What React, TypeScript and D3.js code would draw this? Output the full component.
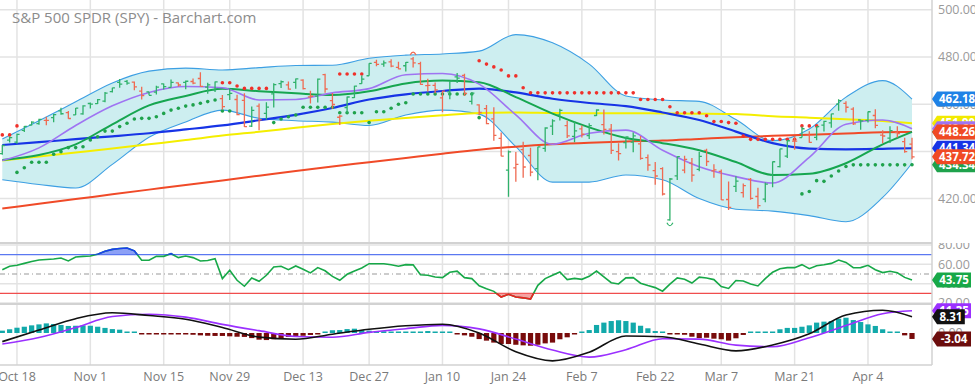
import { useEffect, useRef } from 'react';
import * as d3 from 'd3';

const width = 975;
const height = 388;
const plotRight = 932;

// bar index of each date label (trading days from Oct 14 2021)
const tickIdx = [2, 12, 22, 31, 41, 50, 60, 69, 79, 89, 98, 108, 118];
const tickLabels = ['Oct 18', 'Nov 1', 'Nov 15', 'Nov 29', 'Dec 13', 'Dec 27', 'Jan 10', 'Jan 24', 'Feb 7', 'Feb 22', 'Mar 7', 'Mar 21', 'Apr 4'];

const opens = [
  439.08, 444.75, 443.97, 448.92, 451.13, 451.77, 453.13, 454.28, 457.2, 456.45,
  455.46, 455.87, 460.3, 460.22, 461.3, 465.36, 469.28, 469.7, 469.32, 465.58,
  465.21, 465.12, 468.64, 467.15, 469, 469.24, 469.61, 470.89, 467.22, 466.06,
  462.34, 464.07, 462, 461.64, 450.73, 459.17, 456.13, 464.41, 468.7, 468.15,
  469.23, 470.19, 463.09, 463.42, 472.57, 461.55, 454.48, 458.61, 462.79, 468.75,
  472.06, 477.72, 476.98, 477.93, 475.64, 476.3, 479.22, 477.16, 467.89, 467.95,
  462.7, 465.23, 471.59, 472.19, 461.19, 459.74, 458.13, 453.75, 445.56, 432.03,
  433.06, 440.72, 438.26, 432.68, 441.24, 450.68, 455.5, 450.95, 446.35, 449.51,
  446.73, 455.22, 451.34, 449.41, 439.92, 443.73, 443.93, 443.22, 437.33, 431.89,
  432.66, 411.02, 429.61, 432.03, 435.04, 432.37, 440.47, 431.75, 431.55, 419.62,
  425.14, 422.52, 428.12, 420.89, 419.77, 429.89, 433.59, 438, 444.34, 445.86,
  446.91, 445.94, 451.16, 452.06, 460.02, 460.34, 457.89, 453.31, 453.13, 455.22,
  446.89, 445.59, 447.97, 444.11, 443.08,
];
const highs = [
  442.66, 446.26, 447.55, 450.71, 452.73, 453.83, 454.67, 455.9, 458.49, 457.16,
  458.4, 459.56, 460.7, 462.23, 465.15, 467, 470.65, 470.23, 469.57, 467.38,
  465.29, 467.86, 468.81, 470.49, 469.19, 470.01, 470.94, 473.54, 469.1, 469.57,
  463.9, 466.56, 464.03, 464.67, 459.07, 460.3, 460.79, 468.88, 470, 469.63,
  470.9, 470.56, 465.74, 470.86, 472.87, 464.74, 455.4, 463.21, 467.81, 472.19,
  477.31, 478.81, 478.56, 479, 477.95, 477.85, 479.98, 477.98, 470.82, 469.2,
  465.74, 469.85, 473.2, 472.88, 465.09, 459.96, 459.61, 458.74, 448.06, 440.38,
  439.72, 444.04, 441.59, 442, 450.28, 453.63, 458.12, 452.97, 452.78, 450.99,
  451.92, 457.88, 457.71, 451.61, 443.5, 446.28, 448.06, 446.57, 438.66, 435.5,
  433.26, 428.76, 437.84, 438.2, 437.17, 439.72, 441.11, 434.6, 432.3, 427.21,
  429.51, 426.43, 428.77, 424.55, 426.84, 435.68, 441.07, 444.86, 446.46, 450.58,
  448.49, 450.5, 452.98, 455.91, 462.07, 461.2, 458.76, 453.46, 456.91, 457.83,
  448.93, 450.69, 450.63, 445.75, 445.75,
];
const lows = [
  438.58, 443.74, 443.27, 448.27, 451.01, 451.31, 451.05, 452.39, 455.56, 453.86,
  455.45, 455.56, 458.2, 460.08, 460.83, 464.99, 466.92, 468.2, 465.88, 462.04,
  463.75, 464.11, 466.23, 467.07, 467.48, 466.34, 468.5, 467.35, 464.45, 465.19,
  457.77, 461.73, 455.3, 450.29, 450.31, 448.92, 453.56, 458.65, 466.83, 466.14,
  466.51, 466.27, 460.25, 460.74, 464.8, 458.06, 451.14, 456.31, 462.58, 468.64,
  472.01, 476.06, 475.92, 475.67, 474.86, 473.85, 475.58, 468.28, 465.43, 464.65,
  456.6, 462.05, 468.94, 463.44, 459.9, 455.31, 451.46, 444.5, 437.95, 420.76,
  427.15, 428.86, 429.45, 427.82, 439.81, 446.94, 453.05, 445.71, 443.83, 445.85,
  445.22, 455.01, 447.2, 438.94, 436.13, 441.23, 439.69, 436.42, 431.82, 425.86,
  421.35, 410.64, 427.86, 430.7, 427.11, 431.57, 433.8, 428.86, 419.36, 415.12,
  422.82, 420.44, 419.53, 415.79, 418.42, 424.8, 433.19, 437.22, 440.68, 445.86,
  443.71, 444.76, 448.43, 450.06, 457.18, 456.47, 451.16, 449.14, 452.26, 449.82,
  443.47, 443.53, 445.94, 439.39, 436.65,
];
const closes = [
  442.5, 445.87, 447.19, 450.64, 452.41, 453.59, 453.12, 455.55, 455.96, 453.94,
  458.32, 459.25, 460.04, 461.9, 464.72, 466.91, 468.53, 468.93, 467.38, 463.62,
  463.77, 467.27, 467.43, 469.28, 468.14, 469.73, 468.89, 467.57, 468.19, 469.44,
  458.97, 464.6, 455.56, 450.5, 457.4, 453.42, 458.79, 468.28, 469.52, 466.35,
  470.74, 466.57, 463.36, 470.6, 466.45, 459.87, 454.98, 463.06, 467.69, 470.6,
  477.26, 476.87, 477.48, 476.16, 474.96, 477.71, 477.55, 468.38, 467.94, 466.09,
  465.51, 469.75, 471.02, 464.53, 464.72, 456.49, 451.75, 446.75, 437.98, 439.84,
  434.47, 433.38, 431.24, 441.95, 449.91, 452.95, 457.35, 446.6, 448.7, 447.26,
  450.94, 457.54, 449.32, 440.46, 439.02, 446.1, 446.6, 437.06, 434.23, 429.57,
  421.95, 428.3, 437.75, 436.63, 429.98, 437.89, 435.71, 432.17, 419.43, 416.25,
  427.41, 425.48, 420.07, 417, 426.17, 435.62, 441.07, 444.52, 444.39, 449.59,
  443.8, 450.49, 452.69, 455.91, 461.55, 458.7, 451.64, 452.92, 456.8, 451.03,
  446.52, 448.77, 447.57, 439.92, 437.72,
];

// overlay studies at every 5th bar
const lineIdx = [0, 5, 10, 15, 20, 25, 30, 35, 40, 45, 50, 55, 60, 65, 70, 75, 80, 85, 90, 95, 100, 105, 110, 115, 120, 124];
const bbUpper = [445.3, 453, 461, 469, 474, 475.3, 474.5, 475.5, 476.4, 476.5, 479.5, 480.8, 481.3, 482.5, 489.5, 486, 477, 463.5, 461.8, 461.2, 453.5, 444.5, 449.5, 463, 470, 462.18];
const bbLower = [428, 426, 424.5, 434.5, 446, 452.5, 457.5, 454, 453, 452.4, 451, 455.4, 457.5, 455.8, 442, 427, 427, 430, 428, 420, 415.5, 414.7, 412.8, 410.2, 420.5, 435];
const ma200 = [415.8, 417.8, 419.8, 421.8, 423.8, 425.8, 427.7, 429.7, 431.7, 433.6, 435.4, 437.2, 439, 440.7, 442, 443, 443.7, 444.2, 444.6, 445.3, 446, 446.6, 447.1, 447.6, 448.1, 448.26];
const ma100 = [436.1, 437.8, 439.5, 441.2, 443, 444.8, 446.7, 448.3, 450, 451.6, 453, 454.2, 455.3, 456.3, 456.5, 456.3, 456.2, 456.2, 456.1, 456, 455.8, 454.9, 454.3, 453.6, 452.9, 451.9];
const ma50 = [442.7, 443.9, 445.2, 446.4, 447.7, 449.3, 451, 453.2, 455.5, 458.4, 462, 464.2, 465.6, 466.6, 465, 462.3, 460.5, 459.2, 456.5, 453.3, 448.4, 443.5, 441.2, 440.9, 441.1, 441.34];
const ma20 = [436.4, 438.5, 443, 451.5, 459.5, 463.5, 466.5, 465.5, 464.6, 463.9, 465.5, 468.8, 470, 469.3, 463, 456, 450.2, 445.7, 443.5, 440.5, 435.5, 430, 430.5, 435, 443, 448.3];
const ma9 = [436.1, 441.5, 451, 459.3, 465, 467.5, 467, 461.8, 462, 464.8, 466.6, 472.5, 473, 468.5, 455.5, 443, 447.7, 449, 440.5, 433.5, 429.3, 426.6, 437.5, 451.5, 453.3, 449.6];

// parabolic SAR dots
const sarBelow = [
  null, null, 431.1, 433.1, 435.4, 435.4, 435.4, 438.8, 439.9, 441.6,
  441.6, 442, 444.8, 446.2, 448.6, 448.6, 450.5, 451.9, 453.7, 454,
  454, 454.7, 456.1, 457.5, 458.3, 459.2, 459.7, 460.4, 461.1, 461.8,
  457.1, 457.1, null, null, null, null, null, 452.2, 453.7, 454.7,
  455.4, 458.7, 458.7, 458.7, 458.7, 458.7, 456.4, 456.4, 456.4, 456.4,
  452.2, 456.8, 456.8, 458.3, 460, 460.6, 464.3, 464.3, 464.3, 464.3,
  464.3, 464.3, 464.3, 464.3, 464.3, 454.3, null, null, null, null,
  null, null, null, null, null, null, null, null, null, null,
  null, null, null, null, null, null, null, null, null, null,
  null, null, null, null, null, null, null, null, null, null,
  null, null, null, null, null, null, null, null, null, 422,
  423, 427.6, 427.3, 429.6, 431.7, 433.6, 434.3, 434.3, 434.3, 434.3,
  434.3, 434.3, 434.3, 434.3, 434.34,
];
const sarAbove = [
  447, 447, 450.8, null, null, null, null, null, null, null,
  null, null, null, null, null, null, null, null, null, null,
  null, null, null, null, null, null, null, null, null, null,
  469.1, 469.1, 467.7, 466.7, 466.7, 466.7, 466.7, null, null, null,
  null, null, null, null, null, null, 472.8, 472.8, 472.8, 472.8,
  null, null, null, null, null, null, null, null, null, null,
  null, null, null, null, null, 478.4, 477, 475.8, 474.5, 472,
  472, 467, 464.8, 464.8, 464.8, 464.8, 464.8, 464.8, 464.8, 464.8,
  464.8, 464.8, 464.8, 464.8, 464.8, 464.8, 464.8, 462, 462, 462,
  462, 458.9, 456.4, 456.4, 456.4, 456.4, 455.1, 452.7, 452.7, 452.2,
  451.9, 446.5, 445.1, 445.1, 445.1, 445.1, 445.1, 445.1, 445.1, 450.8,
  450.8, 450.8, null, null, null, null, null, null, null, null,
  null, null, null, null, null,
];

const rsi = [
  54.5, 58, 59, 61, 63, 64.5, 65, 65.5, 66.5, 63.5,
  67.6, 68.3, 68.7, 70.5, 73.5, 75.5, 76.5, 77, 74, 64.2,
  64.2, 68.3, 68.3, 71, 67, 68.7, 67, 63.5, 64, 65.9,
  45.2, 53.8, 43.5, 37.3, 45.9, 42.4, 48.7, 57.3, 58, 54.5,
  58.3, 54.9, 51.1, 56.6, 53.3, 47.5, 43.5, 49.7, 53.1, 56.2,
  60.7, 60.7, 60.7, 59.5, 58, 59.7, 59.5, 49.3, 48.7, 46.9,
  46.2, 51.8, 53, 46.2, 45.2, 37.8, 34.8, 32, 26.1, 28.9,
  26.1, 25.3, 24, 38.3, 45.2, 48.7, 52.1, 44.2, 45.5, 44.5,
  47.6, 53.1, 47, 41, 39.7, 46, 46.2, 40.5, 38, 35.9,
  32.2, 39.5, 45.9, 44.5, 40.6, 46.7, 45.9, 44.2, 37, 35,
  43.2, 42.8, 39.7, 37.6, 45.2, 51.8, 55.5, 56.6, 56.6, 59.7,
  55.5, 58.6, 59.5, 61, 64.5, 62, 56.5, 56.6, 59, 54.5,
  51.5, 52.8, 51.2, 46.5, 43.75,
];

const macdLine = [-4.4, 1.5, 7.3, 10.3, 8.9, 7, 2.8, -2.1, -3.2, -0.6, 1.9, 3.7, 4.5, 0, -9.6, -14.2, -9.8, -1.5, -1.9, -5.6, -9.1, -6.1, -0.4, 9.2, 11.6, 8.31];
const macdSignal = [-5.6, -2.3, 2.8, 8.4, 9.6, 8.1, 4.4, 1.2, -1.8, -2.2, 0.3, 2.2, 3.9, 2.1, -3.1, -8.7, -12.3, -8.5, -2.9, -3.1, -6.2, -7, -2.4, 3.8, 9.8, 11.35];
const macdHist = [
  1.2, 1.9, 2.7, 3.2, 3.9, 4.4, 4.9, 4.6, 4.1, 3.6,
  3.7, 3.9, 3.7, 3.2, 2.6, 2, 1.7, 0.7, 0.2, -0.1,
  -0.3, -0.5, -0.5, -0.7, -0.7, -0.7, -0.9, -1.2, -1.4, -1.5,
  -1.5, -1.7, -1.9, -2, -2.6, -3.4, -3.6, -3.2, -2.6, -2,
  -1.5, -1.4, -1, -0.5, 0.2, 1.4, 1.5, 2, 2.2, 1.5,
  1.2, 1, 0.9, 0.7, 0.7, 0.7, 0.7, 0.7, 1, 0.5,
  0.2, 0.05, -0.5, -1.2, -1.9, -3.1, -3.9, -4.9, -5.6, -5.6,
  -6, -6.3, -6.5, -6, -5.3, -4.9, -3.2, -2.2, -0.5, 0.1,
  1.5, 4.1, 5.3, 6.1, 6.5, 6.1, 5.3, 3.7, 2.4, 1,
  0.2, -0.3, -0.5, -0.9, -1.9, -2.6, -2.4, -2.9, -3.2, -3.9,
  -2.7, -1, 0.1, 0.2, 0.3, 0.5, 1.9, 2.6, 2.6, 3.2,
  3.9, 5.3, 5.8, 6.1, 7.3, 7.8, 6.6, 5.6, 4.4, 3.6,
  1.9, 0.5, 0.05, -1.2, -3.04,
];

const priceTicks = [420, 440, 460, 480, 500];
const rsiTicks = [20, 40, 60, 80];

const green = '#2fb16a';
const red = '#ef6a52';

const x = d3.scaleLinear().domain([0, 124]).range([2.3, 912]);
const yPrice = d3.scaleLinear().domain([420, 480]).range([198.6, 57]);
const yRsi = d3.scaleLinear().domain([30, 70]).range([293.3, 254.7]);
const yMacd = d3.scaleLinear().domain([0, 10]).range([333, 313.4]);

const draw = (node) => {
  const svg = d3.select(node);
  svg.selectAll('*').remove();

  const defs = svg.append('defs');
  const clip = (id, x0, y0, w, h) =>
    defs.append('clipPath').attr('id', id).append('rect').attr('x', x0).attr('y', y0).attr('width', w).attr('height', h);
  clip('cMain', 0, 0, plotRight, 242);
  clip('cRsi', 0, 244, plotRight, 59);
  clip('cMacd', 0, 305, plotRight, 59);
  clip('cRsiHi', 0, 244, plotRight, yRsi(70) - 244);
  clip('cRsiLo', 0, yRsi(30), plotRight, 303 - yRsi(30));
  clip('lRsi', plotRight, 243, 60, 61);
  clip('lMain', plotRight, 0, 60, 242);

  // grid
  const grid = svg.append('g').attr('stroke', '#e3e3e3').attr('stroke-width', 1.5);
  tickIdx.forEach((t) => {
    grid.append('line').attr('x1', x(t)).attr('x2', x(t)).attr('y1', 0).attr('y2', 365);
  });
  priceTicks.forEach((p) => {
    grid.append('line').attr('x1', 0).attr('x2', plotRight).attr('y1', yPrice(p)).attr('y2', yPrice(p));
  });
  rsiTicks.forEach((r) => {
    grid.append('line').attr('x1', 0).attr('x2', plotRight).attr('y1', yRsi(r)).attr('y2', yRsi(r));
  });

  svg.append('text').attr('x', 12).attr('y', 23).attr('fill', '#8c8c8c').attr('font-size', 15)
    .text('S&P 500 SPDR (SPY) - Barchart.com');

  // ---- price panel
  const main = svg.append('g').attr('clip-path', 'url(#cMain)');
  const bb = lineIdx.map((i, k) => ({ i, u: bbUpper[k], l: bbLower[k] }));
  main.append('path').datum(bb)
    .attr('d', d3.area().x((d) => x(d.i)).y0((d) => yPrice(d.l)).y1((d) => yPrice(d.u)).curve(d3.curveMonotoneX))
    .attr('fill', '#cdeef0');
  const smooth = (vals, color, w) => {
    main.append('path').datum(lineIdx.map((i, k) => ({ i, v: vals[k] })))
      .attr('d', d3.line().x((d) => x(d.i)).y((d) => yPrice(d.v)).curve(d3.curveMonotoneX))
      .attr('fill', 'none').attr('stroke', color).attr('stroke-width', w);
  };
  smooth(bbUpper, '#3d9fe3', 1.1);
  smooth(bbLower, '#3d9fe3', 1.1);
  smooth(ma200, '#f04a28', 2);
  smooth(ma100, '#f4ee00', 2);
  smooth(ma50, '#1734e6', 2.2);
  smooth(ma20, '#16a650', 2);
  smooth(ma9, '#9f74f2', 1.6);

  sarBelow.forEach((v, i) => {
    if (v != null) main.append('circle').attr('cx', x(i)).attr('cy', yPrice(v)).attr('r', 1.8).attr('fill', '#1fa24c');
  });
  sarAbove.forEach((v, i) => {
    if (v != null) main.append('circle').attr('cx', x(i)).attr('cy', yPrice(v)).attr('r', 1.8).attr('fill', '#f0302a');
  });

  closes.forEach((c, i) => {
    const up = c >= (i ? closes[i - 1] : opens[i]);
    const cx = x(i);
    main.append('path')
      .attr('d', `M${cx},${yPrice(highs[i])}V${yPrice(lows[i])}M${cx - 2.6},${yPrice(opens[i])}H${cx}M${cx},${yPrice(c)}H${cx + 2.6}`)
      .attr('fill', 'none').attr('stroke', up ? green : red).attr('stroke-width', 1.3);
  });

  const hi = d3.maxIndex(highs);
  const lo = d3.minIndex(lows);
  main.append('path')
    .attr('d', `M${x(hi) - 3},${yPrice(highs[hi]) - 2} Q${x(hi)},${yPrice(highs[hi]) - 8} ${x(hi) + 3},${yPrice(highs[hi]) - 2}`)
    .attr('fill', 'none').attr('stroke', red).attr('stroke-width', 1.2);
  main.append('path')
    .attr('d', `M${x(lo) - 3},${yPrice(lows[lo]) + 2} Q${x(lo)},${yPrice(lows[lo]) + 8} ${x(lo) + 3},${yPrice(lows[lo]) + 2}`)
    .attr('fill', 'none').attr('stroke', green).attr('stroke-width', 1.2);

  // ---- RSI panel
  const rp = svg.append('g').attr('clip-path', 'url(#cRsi)');
  rp.append('line').attr('x1', 0).attr('x2', plotRight).attr('y1', yRsi(70)).attr('y2', yRsi(70)).attr('stroke', '#5b78f2').attr('stroke-width', 1.2);
  rp.append('line').attr('x1', 0).attr('x2', plotRight).attr('y1', yRsi(30)).attr('y2', yRsi(30)).attr('stroke', '#f04848').attr('stroke-width', 1.2);
  rp.append('line').attr('x1', 0).attr('x2', plotRight).attr('y1', yRsi(50)).attr('y2', yRsi(50))
    .attr('stroke', '#999').attr('stroke-width', 1).attr('stroke-dasharray', '5,3,1,3');
  const rsiPts = rsi.map((v, i) => ({ i, v }));
  const rsiLine = d3.line().x((d) => x(d.i)).y((d) => yRsi(d.v));
  rp.append('path').datum(rsiPts)
    .attr('d', d3.area().x((d) => x(d.i)).y0(yRsi(70)).y1((d) => yRsi(d.v)))
    .attr('clip-path', 'url(#cRsiHi)').attr('fill', '#5b78f2').attr('fill-opacity', 0.7);
  rp.append('path').datum(rsiPts)
    .attr('d', d3.area().x((d) => x(d.i)).y0(yRsi(30)).y1((d) => yRsi(d.v)))
    .attr('clip-path', 'url(#cRsiLo)').attr('fill', '#f47a7a').attr('fill-opacity', 0.7);
  rp.append('path').datum(rsiPts).attr('d', rsiLine).attr('fill', 'none').attr('stroke', '#17a848').attr('stroke-width', 1.6);
  rp.append('path').datum(rsiPts).attr('d', rsiLine).attr('clip-path', 'url(#cRsiHi)')
    .attr('fill', 'none').attr('stroke', '#1b3ef0').attr('stroke-width', 1.6);
  rp.append('path').datum(rsiPts).attr('d', rsiLine).attr('clip-path', 'url(#cRsiLo)')
    .attr('fill', 'none').attr('stroke', '#f02020').attr('stroke-width', 1.6);

  // ---- MACD panel
  const mp = svg.append('g').attr('clip-path', 'url(#cMacd)');
  macdHist.forEach((v, i) => {
    const y0 = yMacd(Math.max(v, 0));
    const h = Math.max(Math.abs(yMacd(v) - yMacd(0)), 1.5);
    mp.append('rect').attr('x', x(i) - 2.6).attr('width', 5.2)
      .attr('y', v >= 0 ? yMacd(0) - h : yMacd(0)).attr('height', h)
      .attr('fill', v >= 0 ? '#12a9aa' : '#780b0b');
  });
  const mline = (vals, color) => {
    mp.append('path').datum(lineIdx.map((i, k) => ({ i, v: vals[k] })))
      .attr('d', d3.line().x((d) => x(d.i)).y((d) => yMacd(d.v)).curve(d3.curveMonotoneX))
      .attr('fill', 'none').attr('stroke', color).attr('stroke-width', 1.6);
  };
  mline(macdSignal, '#9b30ff');
  mline(macdLine, '#111');

  // panel borders
  const border = svg.append('g').attr('stroke', '#d2d2d2');
  border.append('line').attr('x1', 0).attr('x2', plotRight).attr('y1', 243).attr('y2', 243).attr('stroke-width', 2);
  border.append('line').attr('x1', 0).attr('x2', plotRight).attr('y1', 304).attr('y2', 304).attr('stroke-width', 2);
  border.append('line').attr('x1', 0).attr('x2', plotRight).attr('y1', 365).attr('y2', 365).attr('stroke-width', 1.5);
  border.append('line').attr('x1', plotRight).attr('x2', plotRight).attr('y1', 0).attr('y2', 365).attr('stroke-width', 1.5);

  // right axis labels
  const axisText = (g, y, label) =>
    g.append('text').attr('x', plotRight + 6).attr('y', y).attr('dy', '0.35em')
      .attr('fill', '#9a9a9a').attr('font-size', 12.5).text(label);
  const lm = svg.append('g').attr('clip-path', 'url(#lMain)');
  priceTicks.forEach((p) => axisText(lm, yPrice(p), p.toFixed(2)));
  const lr = svg.append('g').attr('clip-path', 'url(#lRsi)');
  rsiTicks.forEach((r) => axisText(lr, yRsi(r), r.toFixed(2)));
  axisText(svg, yMacd(0), '0.00');

  // bottom axis
  tickIdx.forEach((t, k) => {
    svg.append('text').attr('x', x(t)).attr('y', 381).attr('text-anchor', 'middle')
      .attr('fill', '#7a7a7a').attr('font-size', 12.5).text(tickLabels[k]);
  });

  // value tags
  const tag = (v, yScale, fill, label) => {
    const y = yScale(v);
    const w = label.length * 6.2 + 3;
    const x0 = plotRight;
    svg.append('path')
      .attr('d', `M${x0},${y}L${x0 + 5},${y - 7.5}H${x0 + 5 + w}V${y + 7.5}H${x0 + 5}Z`)
      .attr('fill', fill);
    svg.append('text').attr('x', x0 + 5 + w / 2).attr('y', y).attr('dy', '0.36em').attr('text-anchor', 'middle')
      .attr('fill', '#fff').attr('font-size', 11.5).attr('font-weight', 700).text(label);
  };
  tag(bbUpper[bbUpper.length - 1], yPrice, '#1f82e6', '462.18');
  tag(ma100[ma100.length - 1], yPrice, '#f2ea00', '451.90');
  tag(ma20[ma20.length - 1], yPrice, '#16a650', '448.30');
  tag(ma9[ma9.length - 1], yPrice, '#9f74f2', '449.60');
  tag(ma200[ma200.length - 1], yPrice, '#f04a24', '448.26');
  tag(ma50[ma50.length - 1], yPrice, '#1734e6', '441.34');
  tag(sarBelow[sarBelow.length - 1], yPrice, '#1fa24c', '434.34');
  tag(closes[closes.length - 1], yPrice, '#f04a24', '437.72');
  tag(rsi[rsi.length - 1], yRsi, '#17a848', '43.75');
  tag(macdSignal[macdSignal.length - 1], yMacd, '#9b30ff', '11.35');
  tag(macdLine[macdLine.length - 1], yMacd, '#111', '8.31');
  tag(macdHist[macdHist.length - 1], yMacd, '#6b0d0d', '-3.04');
};

const SpyChart = () => {
  const ref = useRef(null);

  useEffect(() => {
    document.body.style.margin = '0';
    draw(ref.current);
  }, []);

  return (
    <svg
      ref={ref}
      width={width}
      height={height}
      style={{ display: 'block', background: '#fff', fontFamily: '"Open Sans", sans-serif' }}
    />
  );
};

export default function App() {
  return <SpyChart />;
}
